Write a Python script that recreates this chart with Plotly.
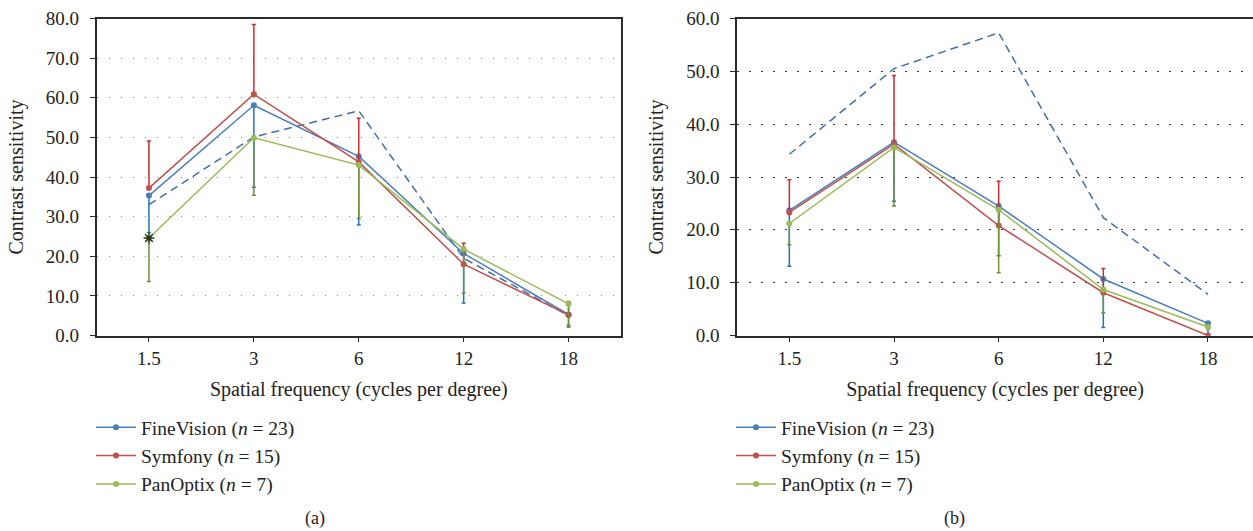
import plotly.graph_objects as go

# ---------------- data ----------------
categories = ["1.5", "3", "6", "12", "18"]

series_names = ["FineVision (<i>n</i> = 23)", "Symfony (<i>n</i> = 15)", "PanOptix (<i>n</i> = 7)"]

# panel (a)
a_fine = [35.3, 58.1, 45.2, 20.7, 5.3]
a_fine_low = [26.0, 37.4, 27.9, 8.2, 2.5]
a_sym = [37.2, 60.9, 43.8, 18.0, 5.2]
a_sym_high = [49.1, 78.5, 54.8, 23.3, 8.6]
a_pan = [24.6, 49.9, 43.0, 21.8, 8.0]
a_pan_low = [13.6, 35.4, 29.5, 10.7, 2.1]
a_norm = [33.0, 50.1, 56.7, 19.5, 5.0]
a_star_cat = ["1.5"]
a_star_val = [24.6]

# panel (b)
b_fine = [23.7, 36.6, 24.5, 10.7, 2.3]
b_fine_low = [13.1, 25.4, 15.1, 1.5, 0.2]
b_sym = [23.3, 36.2, 20.8, 8.1, 0.0]
b_sym_high = [29.5, 49.2, 29.2, 12.7, 0.3]
b_pan = [21.2, 35.6, 23.8, 8.7, 1.6]
b_pan_low = [17.2, 24.5, 11.9, 4.3, 1.2]
b_norm = [34.3, 50.5, 57.3, 22.3, 7.8]

# ---------------- styles ----------------
FONT = "Liberation Serif, DejaVu Serif, serif"
line_colors = ["#4a7ebb", "#c0504d", "#9bbb59"]
err_colors = ["#1f74bd", "#cc2b2b", "#6f9036"]
norm_color = "#4170a8"
W, H = 1253, 531

fig = go.Figure()


def add_panel(fine, fine_low, sym, sym_high, pan, pan_low, norm, xa, ya, legend):
    fig.add_trace(go.Scatter(
        x=categories, y=norm, mode="lines", xaxis=xa, yaxis=ya,
        line=dict(color=norm_color, width=1.5, dash="8px,5px"),
        showlegend=False, hoverinfo="skip"))
    vals = [fine, sym, pan]
    up = [[0] * 5, [h - v for h, v in zip(sym_high, sym)], [0] * 5]
    dn = [[v - l for v, l in zip(fine, fine_low)], [0] * 5, [v - l for v, l in zip(pan, pan_low)]]
    for i in range(3):
        fig.add_trace(go.Scatter(
            x=categories, y=vals[i], mode="lines+markers", name=series_names[i],
            xaxis=xa, yaxis=ya, legend=legend,
            line=dict(color=line_colors[i], width=1.5),
            marker=dict(color=line_colors[i], size=6),
            error_y=dict(type="data", symmetric=False, array=up[i], arrayminus=dn[i],
                         color=err_colors[i], thickness=1.5, width=2)))


add_panel(a_fine, a_fine_low, a_sym, a_sym_high, a_pan, a_pan_low, a_norm, "x", "y", "legend")
fig.add_trace(go.Scatter(x=a_star_cat, y=a_star_val, mode="markers", xaxis="x", yaxis="y",
                         marker=dict(symbol="asterisk-open", size=9, color="#2d3a1e",
                                     line=dict(width=1.5, color="#2d3a1e")),
                         showlegend=False, hoverinfo="skip"))
add_panel(b_fine, b_fine_low, b_sym, b_sym_high, b_pan, b_pan_low, b_norm, "x2", "y2", "legend2")

# ---------------- layout ----------------
top_px, bot_px = 18.5, 335.5
ydom = [1 - bot_px / H, 1 - top_px / H]

tickfont = dict(family=FONT, size=19, color="#222")
titlefont = dict(family=FONT, size=20, color="#222")

common_x = dict(type="category", showgrid=False, showline=True, linecolor="#2b2b2b", linewidth=1.5,
                ticks="outside", ticklen=5, tickcolor="#2b2b2b", tickwidth=1.2, automargin=False,
                tickfont=tickfont, ticklabelstandoff=0, zeroline=False,
                title=dict(text="Spatial frequency (cycles per degree)", font=titlefont, standoff=14))
common_y = dict(showgrid=True, griddash="1.5px,10.5px", gridwidth=1.2, dtick=10, tickformat=".1f",
                showline=True, linecolor="#2b2b2b", linewidth=1.5, ticks="outside", ticklen=5,
                tickcolor="#2b2b2b", tickwidth=1.2, tickfont=tickfont, zeroline=False, automargin=False,
                ticklabelstandoff=7,
                title=dict(text="Contrast sensitivity", font=titlefont, standoff=17))

legend_common = dict(xanchor="left", yanchor="top", bgcolor="rgba(0,0,0,0)",
                     font=dict(family=FONT, size=19.5, color="#222"), itemwidth=40, tracegroupgap=0)

fig.update_layout(
    width=W, height=H, margin=dict(l=0, r=0, t=0, b=0, autoexpand=False),
    paper_bgcolor="white", plot_bgcolor="white",
    font=dict(family=FONT, size=19, color="#222"),
    xaxis=dict(common_x, domain=[96.5 / W, 621 / W], range=[-0.5, 4.5], anchor="y", mirror=True),
    yaxis=dict(common_y, domain=ydom, range=[0, 80], anchor="x", mirror=True, gridcolor="#8a8a8a"),
    xaxis2=dict(common_x, domain=[737 / W, 1.0], range=[-0.5, 4.43], anchor="y2", mirror=True),
    yaxis2=dict(common_y, domain=ydom, range=[0, 60], anchor="x2", gridcolor="#333333"),
    legend=dict(legend_common, x=91 / W, y=1 - 408 / H),
    legend2=dict(legend_common, x=731 / W, y=1 - 408 / H),
    annotations=[
        dict(text="(a)", x=315 / W, y=1 - 518 / H, xref="paper", yref="paper", showarrow=False,
             xanchor="center", yanchor="middle", font=dict(family=FONT, size=18, color="#222")),
        dict(text="(b)", x=954 / W, y=1 - 518 / H, xref="paper", yref="paper", showarrow=False,
             xanchor="center", yanchor="middle", font=dict(family=FONT, size=18, color="#222")),
    ],
)

fig.write_html("out.html", config={"displayModeBar": False},
               post_script="document.body.style.margin='0';")
